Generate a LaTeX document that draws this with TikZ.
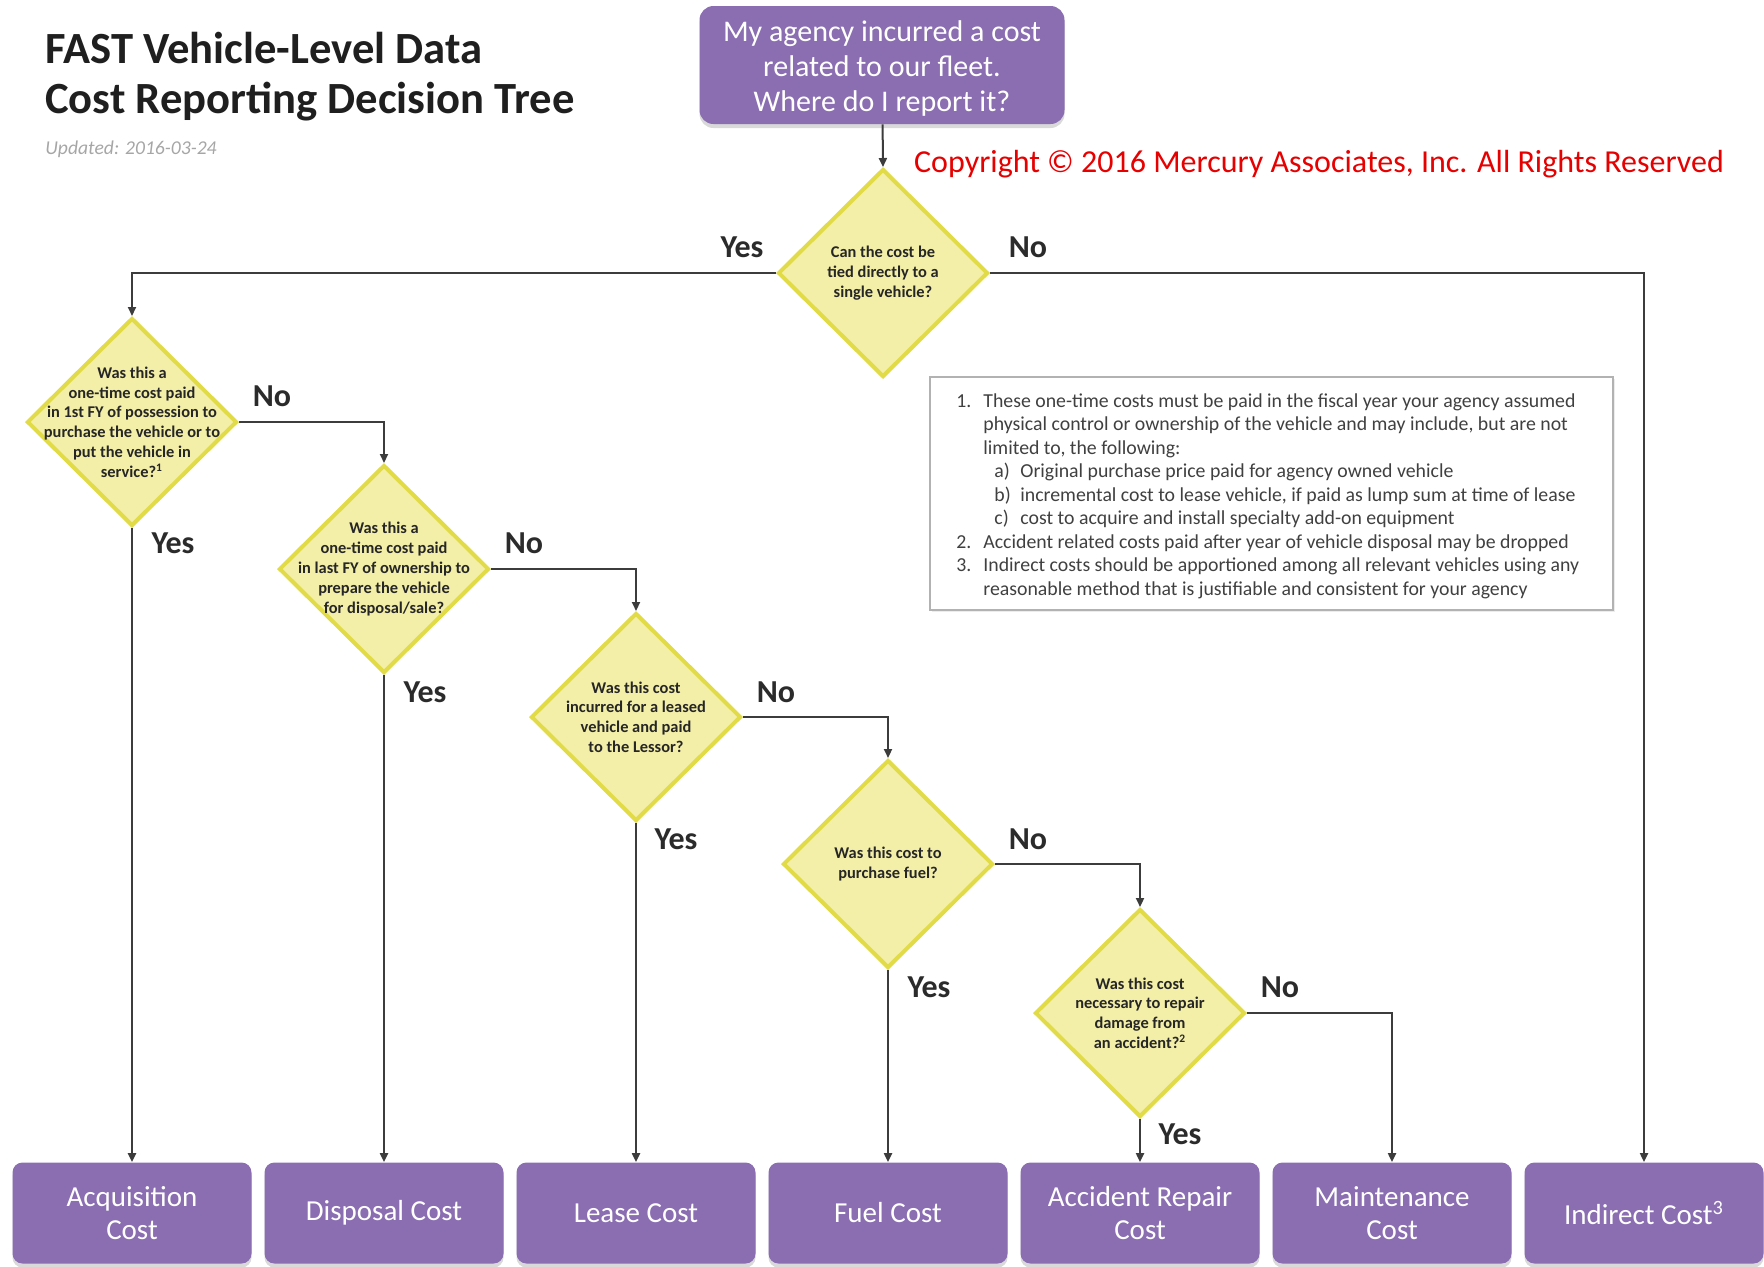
\documentclass[tikz,border=0pt]{standalone}
\usepackage{fontspec}
\setmainfont{Carlito}
\usetikzlibrary{shapes.geometric,arrows.meta,shadows}
\definecolor{boxpurple}{HTML}{8A6EB1}
\definecolor{dfill}{HTML}{F3EFA8}
\definecolor{dline}{HTML}{E2DB48}
\definecolor{conncol}{HTML}{3C3C3C}
\definecolor{labcol}{HTML}{2B2B2B}
\definecolor{notecol}{HTML}{404040}
\definecolor{copyred}{HTML}{E60000}
\begin{document}
\begin{tikzpicture}[x=0.5pt,y=-0.5pt,
  outbox/.style={rectangle, rounded corners=5pt, fill=boxpurple, draw=none,
    text=white, font=\fontsize{14.5}{16.5}\selectfont, align=center,
    minimum width=119.5pt, minimum height=50.5pt, inner sep=0pt,
    drop shadow={opacity=0.3, shadow xshift=0pt, shadow yshift=-2pt}},
  startbox/.style={outbox, minimum width=182.5pt, minimum height=59pt,
    rounded corners=7pt},
  starttext/.style={inner sep=0pt, text=white, align=center,
    font=\fontsize{15}{17.5}\selectfont},
  decision/.style={diamond, draw=dline, line width=2pt, fill=dfill,
    minimum width=105pt, minimum height=104pt, inner sep=0pt},
  qtext/.style={font=\fontsize{8.2}{9.9}\selectfont\bfseries, align=center,
    text=black!85, inner sep=0pt},
  lbl/.style={font=\fontsize{16}{18}\selectfont\bfseries, text=labcol, inner sep=0pt},
  conn/.style={draw=conncol, line width=1pt, -{Triangle[length=4.5pt,width=4pt]}},
  notebox/.style={rectangle, draw=black!30, line width=0.8pt, fill=white,
    minimum width=341.5pt, minimum height=116.5pt, inner sep=0pt,
    drop shadow={opacity=0.15, shadow xshift=1pt, shadow yshift=-1pt}},
  notetext/.style={font=\fontsize{9.9}{11.75}\selectfont, text=notecol, align=left, inner sep=0pt}
]
\useasboundingbox (0,0) rectangle (1764,1266);

% title
\node[anchor=base west, inner sep=0pt, font=\fontsize{22.3}{26}\selectfont\bfseries, text=black!88] (t1) at (45,63) {FAST Vehicle-Level Data};
\node[anchor=base west, inner sep=0pt, font=\fontsize{22.3}{26}\selectfont\bfseries, text=black!88] (t2) at (45,113) {Cost Reporting Decision Tree};
\node[anchor=base west, inner sep=0pt, font=\fontsize{9.8}{11}\selectfont\itshape, text=black!35] (upd) at (45,154) {Updated: 2016-03-24};
\node[inner sep=0pt, font=\fontsize{16}{18}\selectfont, text=copyred] (copy) at (1319,164) {Copyright © 2016 Mercury Associates, Inc. All Rights Reserved};

% start
\node[startbox] (start) at (882,65) {};
\node[starttext] (starttxt) at (882,68) {My agency incurred a cost\\related to our fleet.\\Where do I report it?};

% decisions
\node[decision] (d1) at (883,273) {};
\node[qtext] (q1) at (d1) {Can the cost be\\tied directly to a\\single vehicle?};
\node[decision] (d2) at (132,422) {};
\node[qtext] (q2) at (d2) {Was this a\\one-time cost paid\\in 1st FY of possession to\\purchase the vehicle or to\\put the vehicle in\\service?\textsuperscript{1}};
\node[decision] (d3) at (384,569) {};
\node[qtext] (q3) at (d3) {Was this a\\one-time cost paid\\in last FY of ownership to\\prepare the vehicle\\for disposal/sale?};
\node[decision] (d4) at (636,717) {};
\node[qtext] (q4) at (d4) {Was this cost\\incurred for a leased\\vehicle and paid\\to the Lessor?};
\node[decision] (d5) at (888,864) {};
\node[qtext] (q5) at (d5) {Was this cost to\\purchase fuel?};
\node[decision] (d6) at (1140,1013) {};
\node[qtext] (q6) at (d6) {Was this cost\\necessary to repair\\damage from\\an accident?\textsuperscript{2}};

% outcomes
\node[outbox] (b1) at (132,1213) {Acquisition\\Cost};
\node[outbox] (b2) at (384,1213) {Disposal Cost};
\node[outbox] (b3) at (636,1213) {Lease Cost};
\node[outbox] (b4) at (888,1213) {Fuel Cost};
\node[outbox] (b5) at (1140,1213) {Accident Repair\\Cost};
\node[outbox] (b6) at (1392,1213) {Maintenance\\Cost};
\node[outbox] (b7) at (1644,1213) {Indirect Cost\textsuperscript{3}};

% notes
\node[notebox] (notes) at (1271.5,493.5) {};
\node[notetext, anchor=north west] (nt) at (956,393) {%
\makebox[13.5pt][l]{1.}These one-time costs must be paid in the fiscal year your agency assumed\\
\hspace*{13.5pt}physical control or ownership of the vehicle and may include, but are not\\
\hspace*{13.5pt}limited to, the following:\\
\hspace*{19pt}\makebox[13pt][l]{a)}Original purchase price paid for agency owned vehicle\\
\hspace*{19pt}\makebox[13pt][l]{b)}incremental cost to lease vehicle, if paid as lump sum at time of lease\\
\hspace*{19pt}\makebox[13pt][l]{c)}cost to acquire and install specialty add-on equipment\\
\makebox[13.5pt][l]{2.}Accident related costs paid after year of vehicle disposal may be dropped\\
\makebox[13.5pt][l]{3.}Indirect costs should be apportioned among all relevant vehicles using any\\
\hspace*{13.5pt}reasonable method that is justifiable and consistent for your agency};

% connectors
\draw[conn] (start) -- (d1.north);
\draw[conn] (d1.west) -| (d2.north);
\draw[conn] (d1.east) -| (b7.north);
\draw[conn] (d2.east) -| (d3.north);
\draw[conn] (d2.south) -- (b1.north);
\draw[conn] (d3.east) -| (d4.north);
\draw[conn] (d3.south) -- (b2.north);
\draw[conn] (d4.east) -| (d5.north);
\draw[conn] (d4.south) -- (b3.north);
\draw[conn] (d5.east) -| (d6.north);
\draw[conn] (d5.south) -- (b4.north);
\draw[conn] (d6.east) -| (b6.north);
\draw[conn] (d6.south) -- (b5.north);

% labels
\node[lbl] (y1) at (742,247) {Yes};
\node[lbl] (n1) at (1028,247) {No};
\node[lbl] (n2) at (272,396) {No};
\node[lbl] (y2) at (173,543) {Yes};
\node[lbl] (n3) at (524,543) {No};
\node[lbl] (y3) at (425,692) {Yes};
\node[lbl] (n4) at (776,692) {No};
\node[lbl] (y4) at (676,839) {Yes};
\node[lbl] (n5) at (1028,839) {No};
\node[lbl] (y5) at (929,987) {Yes};
\node[lbl] (n6) at (1280,987) {No};
\node[lbl] (y6) at (1180,1134) {Yes};
\end{tikzpicture}
\end{document}
